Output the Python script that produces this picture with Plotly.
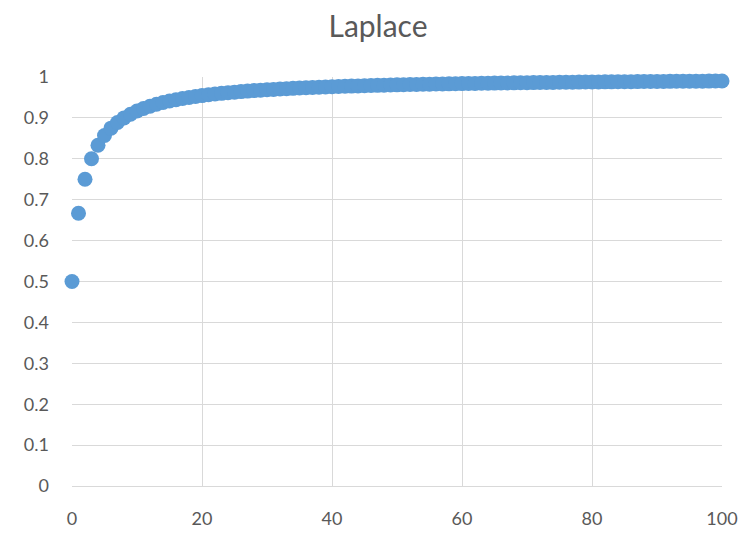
import plotly.graph_objects as go

title_text = "Laplace"

trials = [
    0, 1, 2, 3, 4, 5, 6, 7, 8, 9,
    10, 11, 12, 13, 14, 15, 16, 17, 18, 19,
    20, 21, 22, 23, 24, 25, 26, 27, 28, 29,
    30, 31, 32, 33, 34, 35, 36, 37, 38, 39,
    40, 41, 42, 43, 44, 45, 46, 47, 48, 49,
    50, 51, 52, 53, 54, 55, 56, 57, 58, 59,
    60, 61, 62, 63, 64, 65, 66, 67, 68, 69,
    70, 71, 72, 73, 74, 75, 76, 77, 78, 79,
    80, 81, 82, 83, 84, 85, 86, 87, 88, 89,
    90, 91, 92, 93, 94, 95, 96, 97, 98, 99,
    100,
]

probability = [
    0.5, 0.6667, 0.75, 0.8, 0.8333, 0.8571, 0.875, 0.8889, 0.9, 0.9091,
    0.9167, 0.9231, 0.9286, 0.9333, 0.9375, 0.9412, 0.9444, 0.9474, 0.95, 0.9524,
    0.9545, 0.9565, 0.9583, 0.96, 0.9615, 0.963, 0.9643, 0.9655, 0.9667, 0.9677,
    0.9688, 0.9697, 0.9706, 0.9714, 0.9722, 0.973, 0.9737, 0.9744, 0.975, 0.9756,
    0.9762, 0.9767, 0.9773, 0.9778, 0.9783, 0.9787, 0.9792, 0.9796, 0.98, 0.9804,
    0.9808, 0.9811, 0.9815, 0.9818, 0.9821, 0.9825, 0.9828, 0.9831, 0.9833, 0.9836,
    0.9839, 0.9841, 0.9844, 0.9846, 0.9848, 0.9851, 0.9853, 0.9855, 0.9857, 0.9859,
    0.9861, 0.9863, 0.9865, 0.9867, 0.9868, 0.987, 0.9872, 0.9873, 0.9875, 0.9877,
    0.9878, 0.988, 0.9881, 0.9882, 0.9884, 0.9885, 0.9886, 0.9888, 0.9889, 0.989,
    0.9891, 0.9892, 0.9894, 0.9895, 0.9896, 0.9897, 0.9898, 0.9899, 0.99, 0.9901,
    0.9902,
]

x_tickvals = [0, 20, 40, 60, 80, 100]
y_tickvals = [0, 0.1, 0.2, 0.3, 0.4, 0.5, 0.6, 0.7, 0.8, 0.9, 1]
y_ticktext = ["0", "0.1", "0.2", "0.3", "0.4", "0.5", "0.6", "0.7", "0.8", "0.9", "1"]

fig = go.Figure(
    go.Scatter(
        x=trials,
        y=probability,
        mode="markers",
        marker=dict(color="#5B9BD5", size=15, line=dict(width=0)),
        cliponaxis=False,
        showlegend=False,
    )
)

grid = "#D9D9D9"
tickfont = dict(family="Lato, 'Open Sans', sans-serif", size=18, color="#595959")

W, H = 740, 525
fig.update_layout(
    width=W,
    height=H,
    paper_bgcolor="white",
    plot_bgcolor="white",
    margin=dict(l=64, r=26, t=69, b=47, autoexpand=False),
    title=dict(
        text=title_text,
        x=0.5,
        xanchor="center",
        y=1 - 18 / H,
        yanchor="middle",
        font=dict(family="Lato, 'Open Sans', sans-serif", size=30, color="#595959"),
    ),
    xaxis=dict(
        range=[0, 100],
        tickvals=x_tickvals,
        showgrid=True,
        gridcolor=grid,
        gridwidth=1,
        zeroline=False,
        showline=True,
        linecolor=grid,
        linewidth=1,
        ticks="",
        tickfont=tickfont,
        ticklabelstandoff=16,
        automargin=False,
    ),
    yaxis=dict(
        range=[0, 1],
        tickvals=y_tickvals,
        ticktext=y_ticktext,
        showgrid=True,
        gridcolor=grid,
        gridwidth=1,
        zeroline=False,
        showline=False,
        ticks="",
        tickfont=tickfont,
        ticklabelstandoff=22,
        automargin=False,
    ),
)

fig.write_html("out.html")
